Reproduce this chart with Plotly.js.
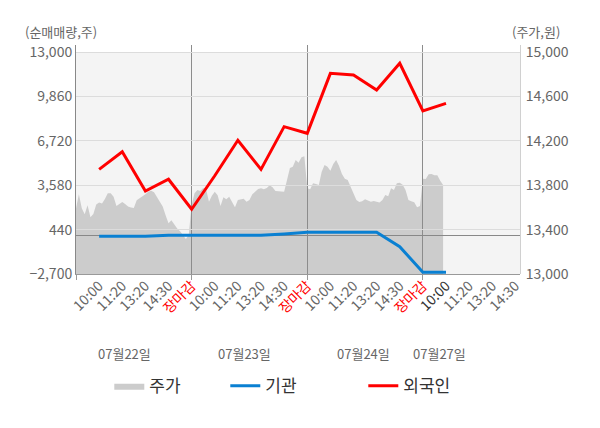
<!DOCTYPE html>
<html>
<head>
<meta charset="utf-8">
<script src="https://cdn.plot.ly/plotly-3.0.1.min.js"></script>
<style>
  body { margin: 0; background: #fff; }
  #chart { width: 600px; height: 428px; }
</style>
</head>
<body>
<div id="chart"></div>
<script>
// x labels (one unit per label), each day ends with 장마감
const timeLabels = [
  "10:00", "11:20", "13:20", "14:30", "장마감",
  "10:00", "11:20", "13:20", "14:30", "장마감",
  "10:00", "11:20", "13:20", "14:30", "장마감",
  "10:00", "11:20", "13:20", "14:30",
]
const days = ["07월22일", "07월23일", "07월24일", "07월27일"]

// 외국인 / 기관 net volume at each label position (1..16)
const flowX = [1, 2, 3, 4, 5, 6, 7, 8, 9, 10, 11, 12, 13, 14, 15, 16]
const foreign = [4700, 5950, 3170, 4000, 1880, 4250, 6760, 4700, 7720, 7250, 11490, 11370, 10310, 12200, 8830, 9370]
const inst = [-34, -34, -34, 37, 37, 37, 37, 37, 129, 249, 249, 249, 249, -769, -2580, -2580]

// 주가, sampled every 1/8 of a label step from the start of 07/22
const priceStep = 0.125
const price = [
  13592, 13718, 13592, 13538, 13619, 13511, 13541, 13625, 13643, 13634,
  13676, 13727, 13727, 13697, 13613, 13631, 13649, 13631, 13607, 13598,
  13595, 13664, 13682, 13697, 13718, 13742, 13751, 13736, 13694, 13652,
  13607, 13529, 13457, 13484, 13442, 13409, 13385, 13349, 13316, 13352,
  13622, 13727, 13757, 13748, 13775, 13763, 13652, 13706, 13742, 13709,
  13613, 13691, 13673, 13697, 13652, 13601, 13667, 13673, 13679, 13652,
  13667, 13718, 13745, 13766, 13772, 13763, 13775, 13799, 13781, 13748,
  13745, 13742, 13742, 13847, 13955, 13967, 14027, 14003, 14051, 14060,
  13772, 13763, 13817, 13811, 13802, 13922, 13982, 13967, 13931, 13991,
  14027, 13973, 13901, 13859, 13847, 13787, 13718, 13667, 13649, 13655,
  13673, 13664, 13652, 13658, 13652, 13643, 13667, 13712, 13700, 13772,
  13757, 13817, 13823, 13805, 13757, 13667, 13655, 13646, 13601, 13613,
  13859, 13856, 13898, 13901, 13889, 13889, 13841, 13802,
]

const volTicks = [-2700, 440, 3580, 6720, 9860, 13000]
const priceTicks = [13000, 13400, 13800, 14200, 14600, 15000]
const dayEnds = [0, 5, 10, 15]

const font = "Noto Sans CJK KR, Noto Sans, sans-serif"
const xRange = [0, 19.2]
// plot frame goes 7px above the shaded area
const volRange = [-2700, 13495]
const priceRange = [13000, 15063]

const priceX = price.map((_, k) => k * priceStep)

const tickText = timeLabels.map((t, i) => {
  if (t == "장마감") return '<span style="color:#ff0000">' + t + "</span>"
  if (i == 15) return '<span style="color:#333333">' + t + "</span>"
  return t
})

// price area sits in its own subplot underneath, so the grid of the
// volume subplot is drawn over it
const trace1 = {
  x: priceX,
  y: price,
  xaxis: "x",
  yaxis: "y",
  type: "scatter",
  mode: "lines",
  name: "주가",
  fill: "tozeroy",
  fillcolor: "#cccccc",
  line: { width: 0, color: "#cccccc" },
  legendwidth: 71,
}
const trace2 = {
  x: flowX,
  y: inst,
  xaxis: "x2",
  yaxis: "y2",
  type: "scatter",
  mode: "lines",
  name: "기관",
  line: { color: "#0a80d2", width: 3 },
  legendwidth: 93,
}
const trace3 = {
  x: flowX,
  y: foreign,
  xaxis: "x2",
  yaxis: "y2",
  type: "scatter",
  mode: "lines",
  name: "외국인",
  line: { color: "#ff0000", width: 3 },
  legendwidth: 82,
}

const bgTop = (13000 - volRange[0]) / (volRange[1] - volRange[0])

const layout = {
  width: 600,
  height: 428,
  margin: { l: 76, r: 80, t: 45, b: 154 },
  paper_bgcolor: "#ffffff",
  plot_bgcolor: "rgba(0,0,0,0)",
  font: { family: font, size: 14, color: "#666666" },
  showlegend: true,
  legend: {
    orientation: "h",
    x: 0.075,
    xanchor: "left",
    y: -0.49,
    yanchor: "middle",
    itemwidth: 30,
    font: { size: 17, color: "#333333" },
  },
  xaxis: {
    domain: [0, 1],
    anchor: "y",
    range: xRange,
    tickmode: "array",
    tickvals: timeLabels.map((_, i) => i + 1),
    ticktext: tickText,
    tickangle: -45,
    tickfont: { size: 14, color: "#666666" },
    showgrid: false,
    zeroline: false,
    showline: false,
    ticks: "",
  },
  yaxis: {
    domain: [0, 1],
    anchor: "x",
    side: "right",
    range: priceRange,
    tickmode: "array",
    tickvals: priceTicks,
    tickformat: ",",
    showgrid: false,
    zeroline: false,
    showline: true,
    linecolor: "#d0d0d0",
    ticks: "",
    ticklabelstandoff: 2,
  },
  xaxis2: {
    domain: [0, 1],
    anchor: "y2",
    side: "bottom",
    range: xRange,
    tickmode: "array",
    tickvals: dayEnds,
    showticklabels: false,
    showgrid: true,
    gridcolor: "#8c8c8c",
    zeroline: false,
    showline: true,
    linecolor: "#999999",
    ticks: "outside",
    ticklen: 5,
    tickcolor: "#999999",
  },
  yaxis2: {
    domain: [0, 1],
    anchor: "x2",
    side: "left",
    range: volRange,
    tickmode: "array",
    tickvals: volTicks,
    tickformat: ",",
    showgrid: true,
    gridcolor: "#dcdcdc",
    zeroline: true,
    zerolinecolor: "#888888",
    zerolinewidth: 1,
    showline: true,
    linecolor: "#888888",
    ticks: "",
  },
  shapes: [
    {
      type: "rect",
      xref: "paper",
      yref: "paper",
      x0: 0,
      x1: 1,
      y0: 0,
      y1: bgTop,
      fillcolor: "#f4f4f4",
      line: { width: 0 },
      layer: "below",
    },
  ],
  annotations: [
    {
      text: "(순매매량,주)",
      xref: "paper", yref: "paper",
      x: -0.034, y: 1.058,
      xanchor: "center", yanchor: "middle",
      showarrow: false,
      font: { size: 13, color: "#666666" },
    },
    {
      text: "(주가,원)",
      xref: "paper", yref: "paper",
      x: 1.035, y: 1.058,
      xanchor: "center", yanchor: "middle",
      showarrow: false,
      font: { size: 13, color: "#666666" },
    },
  ].concat(days.map((d, i) => ({
    text: d,
    xref: "x", yref: "paper",
    x: [2.1, 7.3, 12.45, 15.7][i],
    y: -0.345,
    xanchor: "center", yanchor: "middle",
    showarrow: false,
    font: { size: 13, color: "#666666" },
  }))),
}

Plotly.newPlot("chart", [trace1, trace2, trace3], layout, { displayModeBar: false, staticPlot: true })
</script>
</body>
</html>
